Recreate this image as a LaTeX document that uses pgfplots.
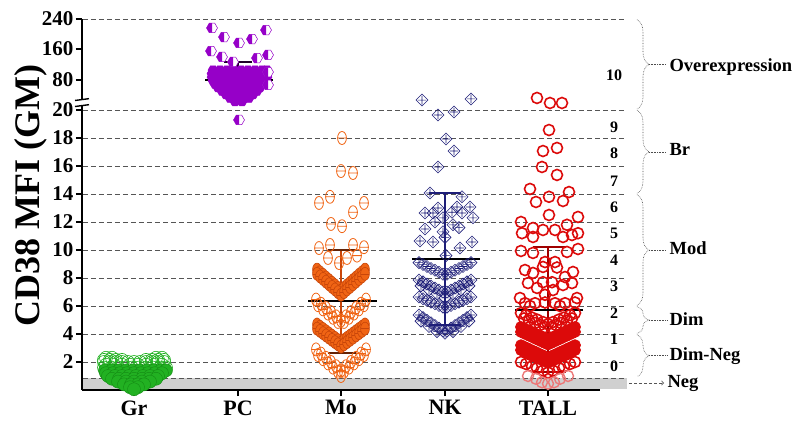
\documentclass[border=0pt]{standalone}
\usepackage{fontspec}
\setmainfont{Liberation Serif}
\usepackage{pgfplots}
\pgfplotsset{compat=1.18}
\usetikzlibrary{decorations.pathreplacing}

\definecolor{grc}{RGB}{34,177,34}
\definecolor{grd}{RGB}{20,140,20}
\definecolor{pcc}{RGB}{150,0,200}
\definecolor{moc}{RGB}{240,100,20}
\definecolor{mod}{RGB}{200,70,10}
\definecolor{nkc}{RGB}{30,30,120}
\definecolor{tac}{RGB}{220,10,10}
\definecolor{tad}{RGB}{160,0,0}
\definecolor{gridc}{RGB}{85,85,85}
\definecolor{bandc}{RGB}{208,208,208}

% theta marks (Mo)
\pgfdeclareplotmark{theta}{%
  \pgfpathellipse{\pgfpointorigin}{\pgfqpoint{0.68\pgfplotmarksize}{0pt}}{\pgfqpoint{0pt}{\pgfplotmarksize}}%
  \pgfpathmoveto{\pgfqpoint{-0.68\pgfplotmarksize}{0pt}}%
  \pgfpathlineto{\pgfqpoint{0.68\pgfplotmarksize}{0pt}}%
  \pgfusepathqstroke
}
\pgfdeclareplotmark{theta*}{%
  \pgfpathellipse{\pgfpointorigin}{\pgfqpoint{0.68\pgfplotmarksize}{0pt}}{\pgfqpoint{0pt}{\pgfplotmarksize}}%
  \pgfusepathqfillstroke
  \pgfpathmoveto{\pgfqpoint{-0.68\pgfplotmarksize}{0pt}}%
  \pgfpathlineto{\pgfqpoint{0.68\pgfplotmarksize}{0pt}}%
  \pgfusepathqstroke
}
% diamond with cross (NK)
\pgfdeclareplotmark{dplus}{%
  \pgfpathmoveto{\pgfqpoint{\pgfplotmarksize}{0pt}}%
  \pgfpathlineto{\pgfqpoint{0pt}{\pgfplotmarksize}}%
  \pgfpathlineto{\pgfqpoint{-\pgfplotmarksize}{0pt}}%
  \pgfpathlineto{\pgfqpoint{0pt}{-\pgfplotmarksize}}%
  \pgfpathclose
  \pgfpathmoveto{\pgfqpoint{-0.7\pgfplotmarksize}{0pt}}%
  \pgfpathlineto{\pgfqpoint{0.7\pgfplotmarksize}{0pt}}%
  \pgfpathmoveto{\pgfqpoint{0pt}{-0.7\pgfplotmarksize}}%
  \pgfpathlineto{\pgfqpoint{0pt}{0.7\pgfplotmarksize}}%
  \pgfusepathqstroke
}
% hexagons (PC)
\def\hexpath{%
  \pgfpathmoveto{\pgfqpointpolar{0}{\pgfplotmarksize}}%
  \pgfpathlineto{\pgfqpointpolar{60}{\pgfplotmarksize}}%
  \pgfpathlineto{\pgfqpointpolar{120}{\pgfplotmarksize}}%
  \pgfpathlineto{\pgfqpointpolar{180}{\pgfplotmarksize}}%
  \pgfpathlineto{\pgfqpointpolar{240}{\pgfplotmarksize}}%
  \pgfpathlineto{\pgfqpointpolar{300}{\pgfplotmarksize}}%
  \pgfpathclose}
\pgfdeclareplotmark{hexhalf}{%
  \begin{pgfscope}\pgfsetfillcolor{white}\hexpath\pgfusepathqfill\end{pgfscope}%
  \pgfpathmoveto{\pgfqpoint{0pt}{0.866\pgfplotmarksize}}%
  \pgfpathlineto{\pgfqpointpolar{120}{\pgfplotmarksize}}%
  \pgfpathlineto{\pgfqpointpolar{180}{\pgfplotmarksize}}%
  \pgfpathlineto{\pgfqpointpolar{240}{\pgfplotmarksize}}%
  \pgfpathlineto{\pgfqpoint{0pt}{-0.866\pgfplotmarksize}}%
  \pgfpathclose
  \pgfusepathqfill
  \hexpath\pgfusepathqstroke
}
\pgfdeclareplotmark{hexfull}{\hexpath\pgfusepathqfillstroke}

\begin{document}
\begin{tikzpicture}
\path[use as bounding box] (-82pt,-36pt) rectangle (716pt,390pt);
\begin{axis}[
  at={(0,0)}, anchor=south west,
  x=1pt, y=14pt,
  xmin=82, xmax=600, ymin=0, ymax=26.5,
  enlargelimits=false,
  clip=false,
  axis x line*=bottom, axis y line*=left,
  axis line style={line width=1.8pt, black},
  tick style={black, line width=1.5pt},
  major tick length=6pt, tick align=outside,
  xtick={134,238,341,445,548},
  xticklabels={Gr,PC,Mo,NK,TALL},
  ytick={2,4,6,8,10,12,14,16,18,20,22.14,24.36,26.5},
  yticklabels={2,4,6,8,10,12,14,16,18,20,80,160,240},
  xticklabel style={font=\bfseries\fontsize{22}{22}\selectfont, yshift=-1pt},
  yticklabel style={font=\bfseries\fontsize{21}{21}\selectfont, xshift=1pt},
  /pgf/number format/assume math mode=true,
]
% Neg band and dashed grid
\fill[bandc] (axis cs:83,0.07) rectangle (axis cs:627,0.86);
\pgfplotsinvokeforeach{0.86,2,4,6,8,10,12,14,16,18,20,26.5}{
  \draw[gridc, line width=0.8pt, dash pattern=on 5pt off 3pt] (axis cs:83,#1) -- (axis cs:625,#1);
}

% ---- Gr ----
\addplot[only marks, mark=o, mark size=6.5pt, grc, mark options={line width=0.6pt}] coordinates {
(106,2.3)(112,2.3)(156,2.3)(162,2.3)
(104,2.15)(110,2.15)(116,2.15)(122,2.15)(146,2.15)(152,2.15)(158,2.15)(164,2.15)
(104,2.0)(110,2.0)(116,2.0)(122,2.0)(128,2.0)(134,2.0)(140,2.0)(146,2.0)(152,2.0)(158,2.0)(164,2.0)
(106,1.8)(114,1.8)(122,1.8)(130,1.8)(138,1.8)(146,1.8)(154,1.8)(162,1.8)
(104,1.6)(111,1.6)(118,1.6)(125,1.6)(132,1.6)(139,1.6)(146,1.6)(153,1.6)(160,1.6)(166,1.6)
};
\addplot[only marks, mark=*, mark size=6.5pt, mark options={draw=grd, fill=grc, line width=0.4pt}] coordinates {
(105,1.4)(112,1.4)(119,1.4)(126,1.4)(133,1.4)(140,1.4)(147,1.4)(154,1.4)(161,1.4)(166,1.4)
(106,1.2)(113,1.2)(120,1.2)(127,1.2)(134,1.2)(141,1.2)(148,1.2)(155,1.2)(162,1.2)
(108,1.0)(115,1.0)(122,1.0)(129,1.0)(136,1.0)(143,1.0)(150,1.0)(158,1.0)
(112,0.8)(119,0.8)(126,0.8)(134,0.8)(142,0.8)(149,0.8)(156,0.8)
(118,0.6)(126,0.6)(134,0.6)(142,0.6)(150,0.6)
(124,0.4)(131,0.4)(138,0.4)(144,0.4)
(130,0.2)(138,0.2)(134,0.05)
};

% ---- PC (upper part of the y axis is compressed: 20 -> 20, 80 -> 22.14, 160 -> 24.36, 240 -> 26.5) ----
\addplot[only marks, mark=hexfull, mark size=5pt, mark options={draw=pcc, fill=pcc, line width=0.5pt}] coordinates {
(213,22.85)(220,22.85)(227,22.85)(234,22.85)(241,22.85)(248,22.85)(255,22.85)(262,22.85)(267,22.85)
(212,22.6)(219,22.6)(226,22.6)(233,22.6)(240,22.6)(247,22.6)(254,22.6)(261,22.6)(267,22.6)
(212,22.35)(219,22.35)(226,22.35)(233,22.35)(240,22.35)(247,22.35)(254,22.35)(261,22.35)(267,22.35)
(213,22.1)(220,22.1)(227,22.1)(234,22.1)(241,22.1)(248,22.1)(255,22.1)(262,22.1)(266,22.1)
(215,21.85)(222,21.85)(229,21.85)(236,21.85)(243,21.85)(250,21.85)(257,21.85)(264,21.85)
(218,21.6)(225,21.6)(232,21.6)(239,21.6)(246,21.6)(253,21.6)(260,21.6)
(222,21.35)(229,21.35)(236,21.35)(243,21.35)(250,21.35)(257,21.35)
(226,21.1)(233,21.1)(240,21.1)(247,21.1)(253,21.1)
(230,20.85)(237,20.85)(244,20.85)(249,20.85)
(235,20.6)(242,20.6)
};
\addplot[only marks, mark=hexhalf, mark size=5.5pt, mark options={draw=pcc, fill=pcc, line width=0.5pt}] coordinates {
(212,25.86)(224,25.21)(239,24.79)(252,25.07)(266,25.71)(211,24.21)(222,23.79)(233,23.43)
(257,23.71)(268,23.93)(268,22.71)(268,21.79)(239,19.29)
};

% ---- Mo ----
\addplot[only marks, mark=theta, mark size=6.5pt, mark options={draw=moc, line width=0.8pt}] coordinates {
(342,18.0)(341,15.64)(353,15.5)(319,13.36)(330,13.8)(353,12.7)(364,13.36)(331,11.86)(342,11.7)
(319,10.14)(330,10.36)(353,10.36)(364,10.2)(328,9.43)(339,9.07)(347,9.43)(357,9.6)
(316,6.46)(321,6.16)(326,5.86)(331,5.56)(336,5.26)(341,4.96)(346,5.26)(351,5.56)(356,5.86)(361,6.16)(366,6.46)
(318,6.06)(323,5.76)(328,5.46)(333,5.16)(338,4.86)(344,4.86)(349,5.16)(354,5.46)(359,5.76)(364,6.06)
(316,2.9)(321,2.6)(326,2.3)(331,2.0)(336,1.7)(341,1.4)(346,1.7)(351,2.0)(356,2.3)(361,2.6)(366,2.9)
(318,2.5)(323,2.2)(328,1.9)(333,1.6)(338,1.3)(344,1.3)(349,1.6)(354,1.9)(359,2.2)(364,2.5)
(341,1.0)
};
\addplot[only marks, mark=theta*, mark size=6.5pt, mark options={draw=mod, fill=moc, line width=0.6pt}] coordinates {
(317,8.6)(320,8.41)(323,8.23)(326,8.04)(329,7.85)(332,7.66)(335,7.48)(338,7.29)(341,7.1)
(344,7.29)(347,7.48)(350,7.66)(353,7.85)(356,8.04)(359,8.23)(362,8.41)(365,8.6)
(317,8.3)(320,8.11)(323,7.93)(326,7.74)(329,7.55)(332,7.36)(335,7.18)(338,6.99)(341,6.8)
(344,6.99)(347,7.18)(350,7.36)(353,7.55)(356,7.74)(359,7.93)(362,8.11)(365,8.3)
(317,4.68)(320,4.52)(323,4.36)(326,4.2)(329,4.04)(332,3.88)(335,3.72)(338,3.56)(341,3.4)
(344,3.56)(347,3.72)(350,3.88)(353,4.04)(356,4.2)(359,4.36)(362,4.52)(365,4.68)
(317,4.38)(320,4.22)(323,4.06)(326,3.9)(329,3.74)(332,3.58)(335,3.42)(338,3.26)(341,3.1)
(344,3.26)(347,3.42)(350,3.58)(353,3.74)(356,3.9)(359,4.06)(362,4.22)(365,4.38)
};

% ---- NK ----
\addplot[only marks, mark=dplus, mark size=6pt, mark options={draw=nkc, line width=0.6pt}] coordinates {
(422,20.71)(471,20.79)(438,19.64)(454,19.86)(446,17.93)(454,17.07)(438,15.93)(430,14.07)(462,13.8)
(425,12.64)(433,12.64)(438,13.0)(443,12.3)(452,12.7)(457,13.07)(462,12.64)(470,13.07)(473,12.3)
(435,12.0)(453,11.8)(425,11.5)(443,11.3)(459,11.6)(420,10.64)(433,10.57)(445,10.9)(460,10.14)(472,10.57)(446,9.6)
(419,9.1)(423,8.96)(427,8.82)(431,8.68)(435,8.55)(439,8.41)(443,8.27)(447,8.27)(451,8.41)(455,8.55)(459,8.68)(463,8.82)(467,8.96)(471,9.1)
(419,7.86)(423,7.72)(427,7.57)(431,7.43)(435,7.29)(439,7.14)(443,7.0)(447,7.0)(451,7.14)(455,7.29)(459,7.43)(463,7.57)(467,7.72)(471,7.86)
(421,7.44)(429,7.15)(437,6.87)(445,6.58)(453,6.87)(461,7.15)(469,7.44)
(419,6.64)(423,6.52)(427,6.4)(431,6.28)(435,6.16)(439,6.04)(443,5.92)(447,5.92)(451,6.04)(455,6.16)(459,6.28)(463,6.4)(467,6.52)(471,6.64)
(419,5.36)(423,5.17)(427,4.98)(431,4.8)(435,4.61)(439,4.42)(443,4.23)(447,4.23)(451,4.42)(455,4.61)(459,4.8)(463,4.98)(467,5.17)(471,5.36)
(421,4.92)(429,4.54)(437,4.17)(453,4.17)(461,4.54)(469,4.92)(445,4.05)
};

% ---- TALL ----
\addplot[only marks, mark=o, mark size=5.5pt, tac, mark options={line width=1.6pt}] coordinates {
(537,20.86)(550,20.5)(562,20.5)(549,18.57)(543,17.07)(557,17.29)(542,15.93)(557,15.36)
(530,14.36)(569,14.14)(549,13.8)(536,13.43)(563,13.5)(549,12.5)(521,12.0)(578,12.36)(567,11.8)
(522,11.2)(533,11.57)(543,11.43)(555,11.43)(578,11.2)(572,11.07)(533,10.93)(563,10.93)
(521,9.93)(533,9.79)(567,9.86)(578,10.07)(545,9.14)(555,9.14)(543,8.79)(557,8.75)
(525,8.57)(533,8.36)(573,8.43)(565,8.07)(528,7.64)(543,7.7)(552,7.7)(563,7.5)(572,7.64)
(537,7.29)(553,7.14)(545,6.8)(520,6.57)(577,6.57)
(525,6.2)(535,6.2)(545,6.25)(555,6.2)(565,6.2)(575,6.25)(530,6.0)(560,6.0)
(521,5.5)(526,5.35)(532,5.17)(537,5.03)(543,4.85)(548,4.7)(553,4.85)(559,5.03)(564,5.17)(570,5.35)(575,5.5)
(524,5.11)(529,4.96)(535,4.79)(540,4.64)(545,4.49)(551,4.49)(556,4.64)(561,4.79)(567,4.96)(572,5.11)
(521,2.0)(526,1.86)(532,1.69)(537,1.56)(543,1.39)(548,1.25)(553,1.39)(559,1.56)(564,1.69)(570,1.86)(575,2.0)
};
\addplot[only marks, mark=*, mark size=5.5pt, mark options={draw=tac, fill=tac, line width=0.8pt}] coordinates {
(521,4.5)(524,4.4)(527,4.3)(530,4.2)(533,4.1)(536,4.0)(539,3.9)(542,3.8)(545,3.7)(548,3.6)
(551,3.7)(554,3.8)(557,3.9)(560,4.0)(563,4.1)(566,4.2)(569,4.3)(572,4.4)(575,4.5)
(521,4.15)(524,4.05)(527,3.95)(530,3.85)(533,3.75)(536,3.65)(539,3.55)(542,3.45)(545,3.35)(548,3.25)
(551,3.35)(554,3.45)(557,3.55)(560,3.65)(563,3.75)(566,3.85)(569,3.95)(572,4.05)(575,4.15)
(521,3.2)(524,3.1)(527,3.0)(530,2.9)(533,2.8)(536,2.7)(539,2.6)(542,2.5)(545,2.4)(548,2.3)
(551,2.4)(554,2.5)(557,2.6)(560,2.7)(563,2.8)(566,2.9)(569,3.0)(572,3.1)(575,3.2)
(521,2.85)(524,2.75)(527,2.65)(530,2.55)(533,2.45)(536,2.35)(539,2.25)(542,2.15)(545,2.05)(548,1.95)
(551,2.05)(554,2.15)(557,2.25)(560,2.35)(563,2.45)(566,2.55)(569,2.65)(572,2.75)(575,2.85)
};
\addplot[only marks, mark=o, mark size=5.5pt, tac!55, mark options={line width=1.4pt}] coordinates {
(528,1.0)(536,0.8)(542,0.55)(548,0.45)(554,0.55)(560,0.8)(568,1.0)
};

% ---- mean and SD ----
\addplot[black, line width=1.3pt] coordinates {(134,0.8)(134,1.7)};
\addplot[black, line width=1.3pt] coordinates {(126,1.7)(142,1.7)};
\addplot[black, line width=1.3pt] coordinates {(126,0.8)(142,0.8)};
\addplot[black, line width=2.4pt] coordinates {(110,1.25)(158,1.25)};

\addplot[black!80!pcc, line width=1.3pt] coordinates {(238,20.93)(238,23.43)};
\addplot[black!80!pcc, line width=1.3pt] coordinates {(224,23.43)(252,23.43)};
\addplot[black!80!pcc, line width=1.3pt] coordinates {(224,20.93)(252,20.93)};
\addplot[black, line width=2.4pt] coordinates {(205,22.14)(273,22.14)};

\addplot[mod, line width=1.3pt] coordinates {(341,2.64)(341,10.0)};
\addplot[black!50!mod, line width=1.3pt] coordinates {(328,10.0)(356,10.0)};
\addplot[black!50!mod, line width=1.3pt] coordinates {(328,2.64)(356,2.64)};
\addplot[black, line width=2.4pt] coordinates {(308,6.36)(377,6.36)};

\addplot[nkc, line width=1.3pt] coordinates {(445,4.64)(445,14.07)};
\addplot[nkc, line width=1.3pt] coordinates {(429,14.07)(461,14.07)};
\addplot[nkc, line width=1.3pt] coordinates {(429,4.64)(461,4.64)};
\addplot[black, line width=2.4pt] coordinates {(412,9.36)(480,9.36)};

\addplot[tad, line width=1.5pt] coordinates {(548,1.3)(548,10.2)};
\addplot[tad, line width=1.5pt] coordinates {(533,10.2)(566,10.2)};
\addplot[tad, line width=1.5pt] coordinates {(533,1.3)(566,1.3)};
\addplot[black, line width=2.4pt] coordinates {(515,5.7)(583,5.7)};

% ---- y axis break ----
\fill[white] (axis cs:72,20.28) rectangle (axis cs:92,20.78);
\draw[line width=1.4pt] (axis cs:75,20.25) -- (axis cs:89,20.38);
\draw[line width=1.4pt] (axis cs:75,20.68) -- (axis cs:89,20.81);

% ---- y label ----
\node[rotate=90, font=\bfseries\fontsize{36}{36}\selectfont] at (axis cs:31,13.9) {CD38 MFI (GM)};

% ---- score numbers ----
\begin{scope}[every node/.style={font=\bfseries\fontsize{16}{16}\selectfont}]
\node at (axis cs:614,22.5) {10};
\node at (axis cs:614,18.79) {9};
\node at (axis cs:614,16.93) {8};
\node at (axis cs:614,14.93) {7};
\node at (axis cs:614,13.07) {6};
\node at (axis cs:614,11.21) {5};
\node at (axis cs:614,9.29) {4};
\node at (axis cs:614,7.43) {3};
\node at (axis cs:614,5.5) {2};
\node at (axis cs:614,3.64) {1};
\node at (axis cs:614,1.71) {0};
\end{scope}

% ---- braces ----
\begin{scope}[brc/.style={decorate, decoration={brace, amplitude=12pt}, gray!60!black, line width=0.6pt, densely dotted},
  ld/.style={gray!60!black, line width=0.6pt, densely dotted},
  lb/.style={anchor=west, font=\bfseries\fontsize{18.5}{18.5}\selectfont}]
\draw[brc] (axis cs:637,26.45) -- (axis cs:637,20.07);
\draw[ld] (axis cs:649,23.26) -- (axis cs:666,23.26);
\node[lb] at (axis cs:666,23.1) {Overexpression};
\draw[brc] (axis cs:637,19.98) -- (axis cs:637,14.05);
\draw[ld] (axis cs:649,17.0) -- (axis cs:666,17.0);
\node[lb] at (axis cs:666,17.2) {Br};
\draw[brc] (axis cs:637,13.95) -- (axis cs:637,6.05);
\draw[ld] (axis cs:649,10.0) -- (axis cs:666,10.0);
\node[lb] at (axis cs:666,10.1) {Mod};
\draw[brc] (axis cs:637,5.95) -- (axis cs:637,4.05);
\draw[ld] (axis cs:649,5.0) -- (axis cs:668,5.0);
\node[lb] at (axis cs:666,5.1) {Dim};
\draw[brc] (axis cs:637,3.95) -- (axis cs:637,0.95);
\draw[ld] (axis cs:649,2.45) -- (axis cs:668,2.45);
\node[lb] at (axis cs:666,2.45) {Dim-Neg};
\draw[gridc, line width=0.8pt, dash pattern=on 3pt off 2pt, ->] (axis cs:629,0.5) -- (axis cs:664,0.5);
\node[lb] at (axis cs:664,0.5) {Neg};
\end{scope}
\end{axis}
\end{tikzpicture}
\end{document}
